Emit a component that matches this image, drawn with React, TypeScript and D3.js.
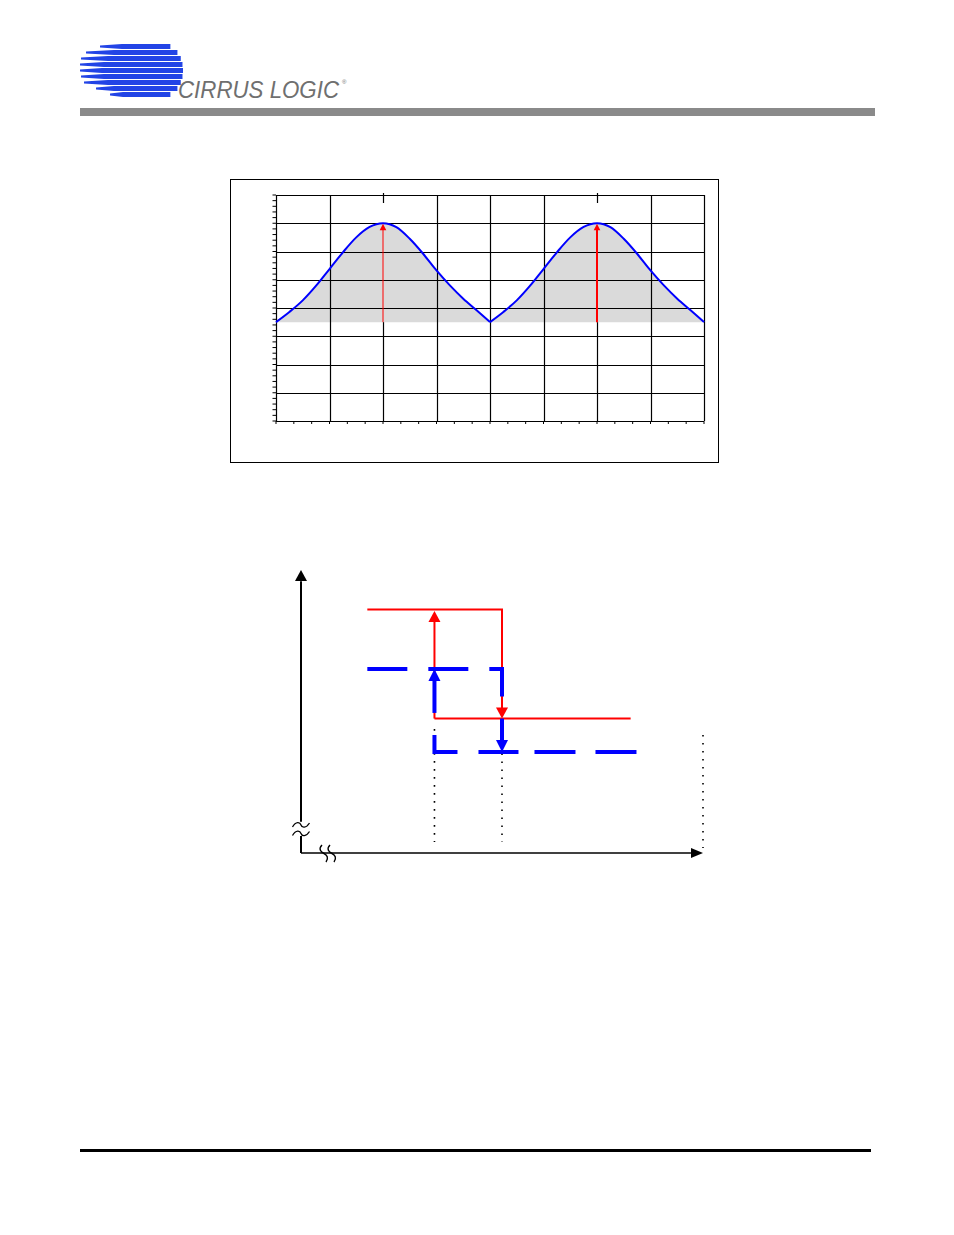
import React from 'react';
import * as d3 from 'd3';

// ---------- Top chart data (grid units) ----------
const gridXs = [0, 1, 2, 3, 4, 5, 6, 7, 8];
const gridYs = [0, 1, 2, 3, 4, 5, 6, 7, 8];
const peakXs = [2, 6];
const baselineValue = 3.5;
const peakValue = 7;
const curveXs = [
  0, 0.25, 0.5, 0.75, 1, 1.25, 1.5, 1.75, 2, 2.25, 2.5, 2.75, 3, 3.25, 3.5, 3.75,
  4, 4.25, 4.5, 4.75, 5, 5.25, 5.5, 5.75, 6, 6.25, 6.5, 6.75, 7, 7.25, 7.5, 7.75, 8,
];
const curveYs = [
  3.5, 3.86, 4.27, 4.79, 5.38, 5.97, 6.5, 6.87, 7.0, 6.86, 6.45, 5.92, 5.33, 4.8, 4.33, 3.92,
  3.5, 3.86, 4.27, 4.79, 5.38, 5.97, 6.5, 6.87, 7.0, 6.86, 6.45, 5.92, 5.33, 4.8, 4.33, 3.92, 3.5,
];
const bumpRanges = [[0, 16], [16, 32]];

// ---------- Bottom schematic data (0..100 units) ----------
const thresholdLow = 33.2;
const thresholdHigh = 50;
const redHigh = 86;
const redLow = 47.5;
const blueHigh = 65;
const blueLow = 35.7;
const upperStart = 16.5;
const redLowEnd = 82;
const blueLowEnd = 83.5;
const dotLines = [
  { x: 33.2, y0: 43.8, y1: 3.9 },
  { x: 50, y0: 46.5, y1: 3.9 },
  { x: 100, y0: 41.7, y1: 1.8 },
];

// ---------- Logo stripes ----------
const logoRowsY = [46.5, 52.5, 58.5, 64.5, 70.5, 76.5, 82.5, 88.5, 94.5];
const logoThinStart = [100, 86, 81, 80, 80, 81, 84, 96, 110];
const logoThickStart = [122, 114, 108, 104, 102, 104, 108, 114, 123];

export default function App() {
  // top chart scales
  const x = d3.scaleLinear().domain([0, 8]).range([276, 704]);
  const y = d3.scaleLinear().domain([0, 8]).range([421, 195]);
  const pts = curveXs.map((v, i) => [v, curveYs[i]] as [number, number]);
  const line = d3.line<[number, number]>().x(d => x(d[0])).y(d => y(d[1])).curve(d3.curveMonotoneX);
  const area = d3.area<[number, number]>().x(d => x(d[0])).y0(y(baselineValue)).y1(d => y(d[1])).curve(d3.curveMonotoneX);
  const bumps = bumpRanges.map(([a, b]) => pts.slice(a, b + 1));
  const minorY = d3.range(0, 8.0001, 0.2);
  const minorX = d3.range(0, 8.0001, 1 / 3);

  // bottom schematic scales
  const sx = d3.scaleLinear().domain([0, 100]).range([301, 703]);
  const sy = d3.scaleLinear().domain([0, 100]).range([853, 570]);

  const arrowHead = (tx: number, ty: number, dir: 'up' | 'down' | 'right', len: number, half: number, fill: string) => {
    let p = '';
    if (dir === 'up') p = `${tx},${ty} ${tx - half},${ty + len} ${tx + half},${ty + len}`;
    if (dir === 'down') p = `${tx},${ty} ${tx - half},${ty - len} ${tx + half},${ty - len}`;
    if (dir === 'right') p = `${tx},${ty} ${tx - len},${ty - half} ${tx - len},${ty + half}`;
    return <polygon points={p} fill={fill} />;
  };

  const logoCx = 153, logoCy = 70.5, logoRx = 30, logoRy = 27;
  const logoBlue = '#2244e6';
  const blue = '#0000ff';
  const red = '#ff0000';

  return (
    <svg width={954} height={1235} style={{ position: 'absolute', left: 0, top: 0 }} xmlns="http://www.w3.org/2000/svg">
      <rect x={0} y={0} width={954} height={1235} fill="#fff" />

      {/* Logo */}
      <g>
        {logoRowsY.map((yc, i) => {
          const dy = yc - logoCy;
          const k = Math.max(0.04, 1 - (dy * dy) / (logoRy * logoRy));
          const xEnd = logoCx + logoRx * Math.pow(k, 0.35);
          const h = 2.4;
          const pts2 = [
            [logoThinStart[i], yc - 0.9], [logoThickStart[i], yc - h], [xEnd, yc - h],
            [xEnd, yc + h], [logoThickStart[i], yc + h], [logoThinStart[i], yc + 0.9],
          ].map(p => p.join(',')).join(' ');
          return <polygon key={i} points={pts2} fill={logoBlue} />;
        })}
        <text x={178} y={98} fontFamily="Liberation Sans, Arial, sans-serif" fontStyle="italic" fontSize={23}
          fill="#6f6f6f" textLength={161} lengthAdjust="spacingAndGlyphs">CIRRUS LOGIC</text>
        <text x={342} y={84} fontFamily="Liberation Sans, Arial, sans-serif" fontSize={6} fill="#6f6f6f">®</text>
      </g>
      <rect x={80} y={108} width={795} height={8} fill="#8a8a8a" />

      {/* Top chart */}
      <rect x={230.5} y={179.5} width={488} height={283} fill="none" stroke="#000" strokeWidth={1} />
      {bumps.map((b, i) => (
        <path key={'a' + i} d={area(b) || ''} fill="#dadada" />
      ))}
      {gridYs.map(g => (
        <line key={'gy' + g} x1={x(0)} x2={x(8)} y1={Math.round(y(g)) + 0.5} y2={Math.round(y(g)) + 0.5} stroke="#000" strokeWidth={1.2} />
      ))}
      {gridXs.map(g => {
        const px = Math.round(x(g)) + 0.5;
        const isPeak = peakXs.includes(g);
        return (
          <line key={'gx' + g} x1={px} x2={px} y1={isPeak ? y(baselineValue) : y(8)} y2={y(0)} stroke="#000" strokeWidth={1.2} />
        );
      })}
      {peakXs.map(g => (
        <line key={'pt' + g} x1={Math.round(x(g)) + 0.5} x2={Math.round(x(g)) + 0.5} y1={193} y2={203} stroke="#000" strokeWidth={1.2} />
      ))}
      {minorY.map((g, i) => (
        <line key={'my' + i} x1={x(0) - 3.5} x2={x(0)} y1={y(g)} y2={y(g)} stroke="#000" strokeWidth={1} />
      ))}
      {minorX.map((g, i) => (
        <line key={'mx' + i} x1={x(g)} x2={x(g)} y1={y(0)} y2={y(0) + 3} stroke="#000" strokeWidth={1} />
      ))}
      {bumps.map((b, i) => (
        <path key={'l' + i} d={line(b) || ''} fill="none" stroke={blue} strokeWidth={2} />
      ))}
      {peakXs.map((g, i) => (
        <g key={'ra' + g}>
          <line x1={x(g)} x2={x(g)} y1={y(baselineValue)} y2={y(peakValue) + 5} stroke={red} strokeWidth={i === 0 ? 1 : 2} />
          {arrowHead(x(g), y(peakValue) + 0.5, 'up', 6.5, 3.3, red)}
        </g>
      ))}

      {/* Bottom schematic */}
      <line x1={sx(0)} x2={sx(0)} y1={sy(0)} y2={sy(6)} stroke="#000" strokeWidth={2} />
      <line x1={sx(0)} x2={sx(0)} y1={sy(11)} y2={sy(96)} stroke="#000" strokeWidth={2} />
      {arrowHead(sx(0), sy(100), 'up', 11, 6, '#000')}
      <line x1={sx(0)} x2={sx(97)} y1={sy(0)} y2={sy(0)} stroke="#000" strokeWidth={1.6} />
      {arrowHead(sx(100), sy(0), 'right', 12, 5, '#000')}
      {/* y-axis break */}
      {[825, 833.5].map(cy => (
        <path key={'yb' + cy} d={`M292.5,${cy + 2} C296,${cy - 4} 300,${cy - 3} 301,${cy} S306,${cy + 3.5} 309.5,${cy - 2}`} fill="none" stroke="#000" strokeWidth={1.3} />
      ))}
      {/* x-axis break */}
      {[324, 332].map(cx => (
        <path key={'xb' + cx} d={`M${cx - 2},845 C${cx - 6},849 ${cx - 3},852 ${cx},853.5 S${cx + 5},858 ${cx + 2},862`} fill="none" stroke="#000" strokeWidth={1.4} />
      ))}
      {/* dotted guide lines */}
      {dotLines.map((d, i) => (
        <line key={'dl' + i} x1={sx(d.x)} x2={sx(d.x)} y1={sy(d.y0)} y2={sy(d.y1)} stroke="#000" strokeWidth={1.6} strokeDasharray="1.6 6.4" />
      ))}
      {/* red hysteresis */}
      <path d={`M${sx(upperStart)},${sy(redHigh)} H${sx(thresholdHigh)} V${sy(redLow) - 10}`} fill="none" stroke={red} strokeWidth={2} />
      {arrowHead(sx(thresholdHigh), sy(redLow), 'down', 11, 6, red)}
      <line x1={sx(thresholdLow)} x2={sx(redLowEnd)} y1={sy(redLow)} y2={sy(redLow)} stroke={red} strokeWidth={2} />
      <line x1={sx(thresholdLow)} x2={sx(thresholdLow)} y1={sy(redLow)} y2={sy(redHigh) + 12} stroke={red} strokeWidth={2} />
      {arrowHead(sx(thresholdLow), sy(redHigh) + 1.5, 'up', 11, 6, red)}
      {/* blue hysteresis */}
      <path d={`M${sx(upperStart)},${sy(blueHigh)} H${sx(thresholdHigh)} V${sy(55.1)}`} fill="none" stroke={blue} strokeWidth={4} strokeDasharray="40 21" />
      <path d={`M${sx(thresholdLow)},${sy(41.7)} V${sy(blueLow)} H${sx(blueLowEnd)}`} fill="none" stroke={blue} strokeWidth={4} strokeDasharray="40 21 40 16 41 20 41 20" />
      <line x1={sx(thresholdLow)} x2={sx(thresholdLow)} y1={sy(49.5)} y2={sy(blueHigh) + 10} stroke={blue} strokeWidth={4} />
      {arrowHead(sx(thresholdLow), sy(blueHigh), 'up', 12, 6, blue)}
      <line x1={sx(thresholdHigh)} x2={sx(thresholdHigh)} y1={sy(redLow)} y2={sy(blueLow) - 10} stroke={blue} strokeWidth={4} />
      {arrowHead(sx(thresholdHigh), sy(blueLow), 'down', 12, 6, blue)}

      {/* footer rule */}
      <rect x={80} y={1149} width={791} height={3} fill="#000" />
    </svg>
  );
}
